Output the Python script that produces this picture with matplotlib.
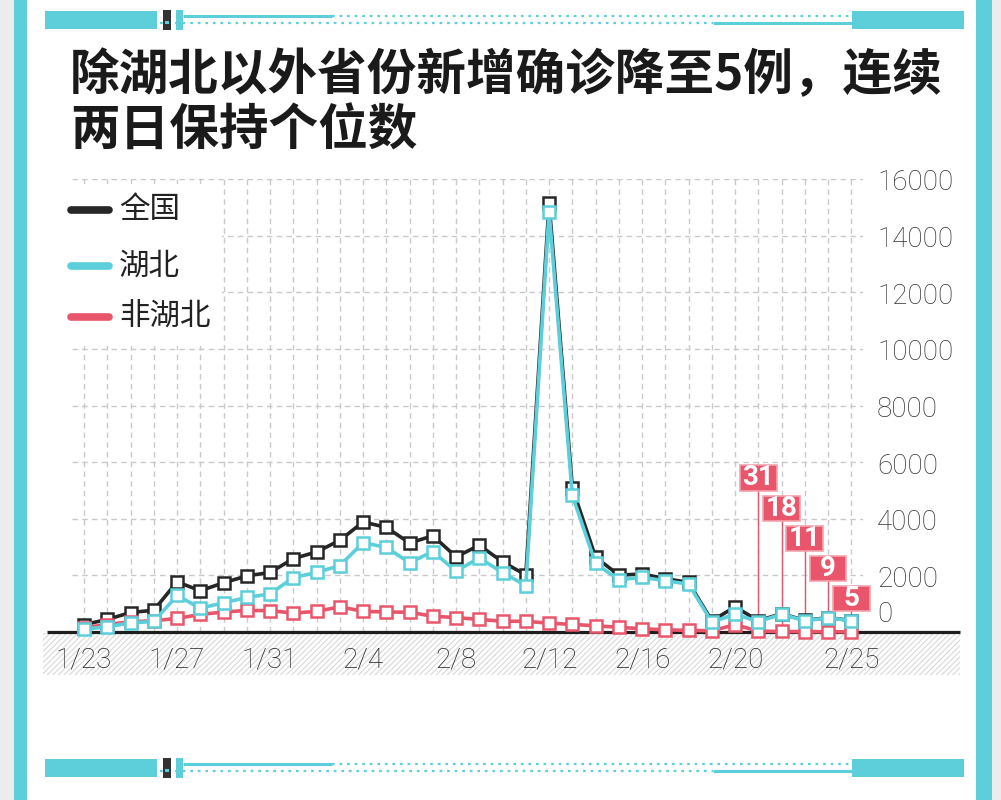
import matplotlib
matplotlib.use('Agg')
import matplotlib.pyplot as plt
from matplotlib.patches import Rectangle
from matplotlib.lines import Line2D
from matplotlib.transforms import Affine2D

# ---------------- data ----------------
dates = ['1/23', '1/24', '1/25', '1/26', '1/27', '1/28', '1/29', '1/30', '1/31',
         '2/1', '2/2', '2/3', '2/4', '2/5', '2/6', '2/7', '2/8', '2/9', '2/10',
         '2/11', '2/12', '2/13', '2/14', '2/15', '2/16', '2/17', '2/18', '2/19',
         '2/20', '2/21', '2/22', '2/23', '2/24', '2/25']
national = [259, 444, 688, 769, 1771, 1459, 1737, 1982, 2102, 2590, 2829, 3235,
            3887, 3694, 3143, 3399, 2656, 3062, 2478, 2015, 15152, 5090, 2641,
            2009, 2048, 1886, 1749, 394, 889, 397, 648, 409, 508, 406]
hubei = [105, 180, 323, 371, 1291, 840, 1032, 1220, 1347, 1921, 2103, 2345,
         3156, 2987, 2447, 2841, 2147, 2618, 2097, 1638, 14840, 4823, 2420,
         1843, 1933, 1807, 1693, 349, 631, 366, 630, 398, 499, 401]
non_hubei = [154, 264, 365, 398, 480, 619, 705, 762, 755, 669, 726, 890, 731,
             707, 696, 558, 509, 444, 381, 377, 312, 267, 221, 166, 115, 79,
             56, 45, 258, 31, 18, 11, 9, 5]
tick_labels = ['1/23', '1/27', '1/31', '2/4', '2/8', '2/12', '2/16', '2/20', '2/25']
y_ticks = [0, 2000, 4000, 6000, 8000, 10000, 12000, 14000, 16000]
callout_dates = ['2/21', '2/22', '2/23', '2/24', '2/25']
callout_values = [31, 18, 11, 9, 5]
legend_labels = ['全国', '湖北', '非湖北']
title = '除湖北以外省份新增确诊降至5例，连续\n两日保持个位数'

# ---------------- style ----------------
BLACK = '#262626'
CYAN = '#5ccfdb'
RED = '#e9566b'
GRID = '#c9c9c9'
CJK = ['Noto Sans CJK SC', 'DejaVu Sans']
NUM = ['Roboto', 'DejaVu Sans']

W, H = 1001, 800
fig = plt.figure(figsize=(W / 100, H / 100), dpi=100)
fig.patch.set_facecolor('white')
PX = Affine2D().scale(1 / W, -1 / H).translate(0, 1) + fig.transFigure

# main axes: x from -0.5..33.5 -> px 72.4..863 ; y 0..16000 -> px 632..179
x0, x1, ytop, ybase = 72.4, 863.0, 179.0, 632.0
ax = fig.add_axes([x0 / W, 1 - ybase / H, (x1 - x0) / W, (ybase - ytop) / H])
ax.set_facecolor('none')
n = len(dates)
xs = list(range(n))
ax.set_xlim(-0.5, n - 0.5)
ax.set_ylim(0, 16000)
for s in ax.spines.values():
    s.set_visible(False)
ax.set_xticks(xs)
ax.set_yticks(y_ticks)
ax.tick_params(length=0, labelleft=False, labelbottom=False)
ax.grid(True, color=GRID, lw=1.0, linestyle=(0, (4, 3)))
ax.set_axisbelow(True)


def frect(x, y, w, h, **kw):
    r = Rectangle((x, y), w, h, transform=PX, clip_on=False, **kw)
    ax.add_patch(r)
    return r


def fline(xa, xb, ya, yb, **kw):
    ln = Line2D([xa, xb], [ya, yb], transform=PX, clip_on=False, **kw)
    ax.add_line(ln)
    return ln

# hatched band and baseline
plt.rcParams['hatch.linewidth'] = 0.8
frect(43, 633, 917, 42, facecolor='white', edgecolor='#d8d8d8', lw=0,
      hatch='//////', zorder=1)
fline(47, 960, ybase, ybase, color='#1e1e1e', lw=2.3, zorder=2,
      solid_capstyle='butt')

# legend mask and legend
frect(60, 184, 162, 162, facecolor='white', edgecolor='none', zorder=1.5)
leg_colors = [BLACK, CYAN, RED]
leg_y = [210, 266, 317]
for lab, c, yy in zip(legend_labels, leg_colors, leg_y):
    fline(71, 109, yy, yy, color=c, lw=5.5, solid_capstyle='round', zorder=4)
    ax.text(119, yy, lab, transform=PX, fontsize=22, family=CJK,
            fontweight='light', color='#222222', va='center', ha='left',
            zorder=4)

# series
series = [(national, BLACK), (non_hubei, RED), (hubei, CYAN)]
for vals, c in series:
    ax.plot(xs, vals, color=c, lw=2.6, marker='s', markersize=8,
            markerfacecolor='white', markeredgecolor=c, markeredgewidth=1.8,
            clip_on=False, zorder=3, solid_joinstyle='miter')

# callouts
box_w = 1.58
box_h = 890
for i, (d, v) in enumerate(zip(callout_dates, callout_values)):
    xi = dates.index(d)
    yc = 5440 - 1065 * i
    ax.plot([xi, xi], [yc - box_h / 2, non_hubei[xi]], color=RED, lw=1.0,
            zorder=2.5)
    ax.add_patch(Rectangle((xi - box_w / 2, yc - box_h / 2), box_w, box_h,
                           facecolor=RED, edgecolor='#f2a3ad', lw=1.2,
                           zorder=5, clip_on=False))
    ax.text(xi, yc, str(v), color='white', fontsize=20, fontweight='bold',
            family=NUM, ha='center', va='center', zorder=6)

# y tick labels (right side)
for t in y_ticks:
    ypx = ybase - (ybase - ytop) * t / 16000 + 4
    if t == 0:
        ypx = 614
    ax.text(877, ypx, str(t), transform=PX, fontsize=20, family=NUM,
            fontweight='light', color='#333333', ha='left', va='center')

# x tick labels (centred in the hatched band)
for lab in tick_labels:
    xi = dates.index(lab)
    ax.text(x0 + (xi + 0.5) * (x1 - x0) / n, 660, lab, transform=PX,
            fontsize=20, family=NUM, fontweight='light', color='#222222',
            ha='center', va='center')

# title
lines = title.split('\n')
ax.text(70, 76, lines[0], transform=PX, fontsize=35.7, family=CJK,
        fontweight='bold', color='#1a1a1a', ha='left', va='center')
ax.text(70, 131, lines[1], transform=PX, fontsize=35.7, family=CJK,
        fontweight='bold', color='#1a1a1a', ha='left', va='center')

# frame: grey margins + cyan bars
frect(0, 0, 14, 800, facecolor='#ececec', edgecolor='none', zorder=0.1)
frect(14, 0, 13, 800, facecolor=CYAN, edgecolor='none', zorder=0.1)
frect(992, 0, 9, 800, facecolor='#ececec', edgecolor='none', zorder=0.1)
frect(976, 0, 16, 800, facecolor=CYAN, edgecolor='none', zorder=0.1)


def deco(y):
    frect(45, y, 112, 18, facecolor=CYAN, edgecolor='none', zorder=0.2)
    frect(852, y, 112, 18, facecolor=CYAN, edgecolor='none', zorder=0.2)
    frect(163, y - 1, 8, 20, facecolor='#333333', edgecolor='none', zorder=0.3)
    frect(165, y + 10, 4, 3, facecolor=CYAN, edgecolor='none', zorder=0.35)
    frect(176, y - 1, 7, 20, facecolor=CYAN, edgecolor='none', zorder=0.3)
    fline(183, 332, y + 4.5, y + 4.5, color=CYAN, lw=2.2, zorder=0.2,
          solid_capstyle='butt')
    fline(332, 852, y + 4.5, y + 4.5, color=CYAN, lw=1.6, zorder=0.2,
          linestyle=(0, (1.2, 2.2)))
    fline(160, 713, y + 12, y + 12, color=CYAN, lw=1.6, zorder=0.2,
          linestyle=(0, (1.2, 2.2)))
    fline(713, 852, y + 12, y + 12, color=CYAN, lw=2.2, zorder=0.2,
          solid_capstyle='butt')


deco(11)
deco(759)

fig.savefig('out.png', dpi=100, facecolor='white')
